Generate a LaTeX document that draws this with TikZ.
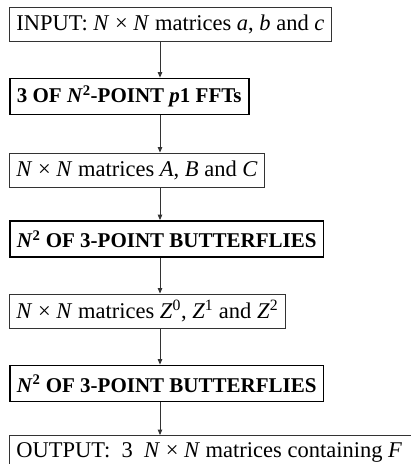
\documentclass[tikz,border=0pt]{standalone}
\usepackage{fontspec}
\setmainfont{Liberation Serif}
\usetikzlibrary{arrows.meta}
\newcommand{\vi}[1]{\textit{#1}}
\tikzset{
  stage/.style={draw=black!80,line width=0.9pt,anchor=west,inner xsep=7pt,
    minimum height=34pt,font=\fontsize{22.5}{26}\selectfont},
  opbox/.style={stage,line width=1.8pt,draw=black,minimum height=36pt,
    font=\fontsize{21}{25}\selectfont\bfseries},
  flow/.style={draw=black!80,line width=0.9pt,-{Triangle[width=4.5pt,length=5.5pt]}},
}
\begin{document}
\begin{tikzpicture}[x=1pt,y=-1pt]
\useasboundingbox (0,0) rectangle (411,464);
\coordinate (ax) at (160,0);
\node[stage] (in) at (9,24.5) {INPUT: \vi{N} × \vi{N} matrices \vi{a}, \vi{b} and \vi{c}};
\node[opbox] (fft) at (9,96.5) {3 OF \vi{N}\textsuperscript{2}-POINT \vi{p}1 FFTs};
\node[stage] (abc) at (9,170) {\vi{N} × \vi{N} matrices \vi{A}, \vi{B} and \vi{C}};
\node[opbox] (bf1) at (9,239) {\vi{N}\textsuperscript{2} OF 3-POINT BUTTERFLIES};
\node[stage] (z) at (9,311) {\vi{N} × \vi{N} matrices \vi{Z}\textsuperscript{0}, \vi{Z}\textsuperscript{1} and \vi{Z}\textsuperscript{2}};
\node[opbox] (bf2) at (9,383.5) {\vi{N}\textsuperscript{2} OF 3-POINT BUTTERFLIES};
\node[stage] (out) at (9,452.5) {OUTPUT:\ \ 3\ \ \vi{N} × \vi{N} matrices containing \vi{F}\hspace*{8pt}};
\draw[flow] (in.south -| ax) -- (fft.north -| ax);
\draw[flow] (fft.south -| ax) -- (abc.north -| ax);
\draw[flow] (abc.south -| ax) -- (bf1.north -| ax);
\draw[flow] (bf1.south -| ax) -- (z.north -| ax);
\draw[flow] (z.south -| ax) -- (bf2.north -| ax);
\draw[flow] (bf2.south -| ax) -- (out.north -| ax);
\end{tikzpicture}
\end{document}
